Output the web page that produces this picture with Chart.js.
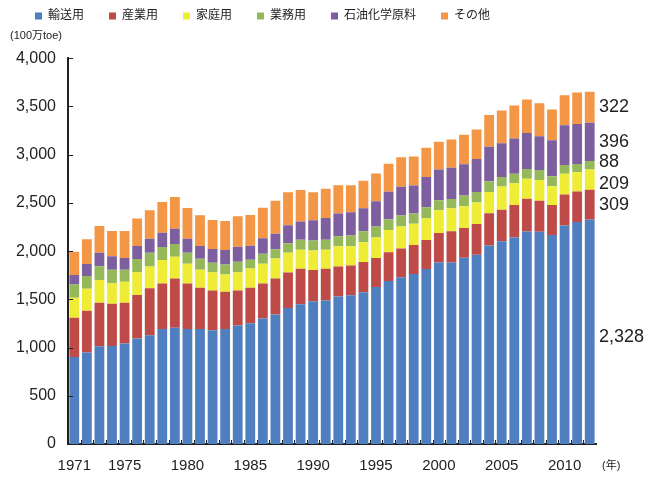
<!DOCTYPE html>
<html lang="ja">
<head>
<meta charset="utf-8">
<title>用途別石油消費量の推移</title>
<script src="https://cdn.jsdelivr.net/npm/chart.js@4.4.1/dist/chart.umd.min.js"></script>
<style>
    html, body { margin: 0; padding: 0; background: #fff; }
    #wrap { width: 650px; height: 477px; }
</style>
</head>
<body>
<div id="wrap"><canvas id="chart"></canvas></div>
<script>
// 年（1971〜2012）
const years = [];
for (let y = 1971; y <= 2012; y++) years.push(y);

// 用途別の消費量（100万toe）
const transport = [903, 949, 1014, 1017, 1042, 1094, 1127, 1193, 1204, 1193,
    1193, 1179, 1193, 1228, 1252, 1301, 1343, 1410, 1449, 1480,
    1487, 1529, 1542, 1573, 1627, 1690, 1728, 1762, 1815, 1883,
    1883, 1932, 1963, 2057, 2101, 2142, 2204, 2201, 2166, 2266,
    2301, 2328];
const industry = [405, 432, 450, 437, 422, 450, 489, 472, 513, 472,
    426, 413, 385, 364, 367, 364, 374, 368, 367, 325,
    329, 311, 309, 315, 302, 298, 298, 302, 301, 304,
    322, 308, 318, 335, 329, 335, 340, 322, 311, 322,
    316, 309];
const household = [208, 229, 236, 212, 218, 236, 225, 242, 224, 204,
    187, 190, 180, 190, 201, 204, 207, 204, 197, 202,
    197, 211, 200, 205, 212, 232, 229, 219, 225, 236,
    239, 225, 222, 222, 239, 226, 207, 214, 195, 215,
    200, 209];
const commercial = [139, 131, 142, 141, 125, 138, 142, 135, 132, 114,
    115, 97, 104, 107, 90, 103, 94, 100, 104, 103,
    104, 104, 111, 114, 114, 111, 114, 107, 114, 104,
    97, 111, 111, 111, 100, 100, 100, 104, 104, 90,
    86, 88];
const petrochem = [97, 125, 142, 139, 121, 135, 146, 149, 159, 146,
    131, 142, 149, 156, 145, 160, 162, 187, 191, 211,
    225, 236, 242, 236, 263, 284, 298, 291, 312, 319,
    322, 325, 342, 356, 350, 364, 374, 350, 374, 412,
    416, 396];
const others = [242, 257, 277, 263, 281, 284, 294, 318, 329, 318,
    319, 301, 301, 316, 319, 318, 343, 340, 325, 288,
    305, 291, 278, 287, 287, 290, 305, 301, 305, 287,
    295, 305, 306, 329, 340, 343, 347, 343, 319, 312,
    326, 322];

const seriesNames = ['輸送用', '産業用', '家庭用', '業務用', '石油化学原料', 'その他'];
const seriesData = [transport, industry, household, commercial, petrochem, others];
const seriesColors = ['#4f7fbf', '#bf4b48', '#eeec35', '#95b85a', '#7d5fa0', '#f39645'];

// 軸の目盛り
const yTicks = [0, 500, 1000, 1500, 2000, 2500, 3000, 3500, 4000];

const FONT = '"Liberation Sans", "Noto Sans CJK JP", sans-serif';
const AXIS_COLOR = '#222';

// 右端の数値ラベル（2012年）の重なり避け用の微調整
const labelNudge = [5, 0, 4, -3, 0, 0];

// 内向きの目盛り線、単位、右端の数値
const decorPlugin = {
    id: 'decor',
    afterDraw: function (chart) {
        const ctx = chart.ctx;
        const area = chart.chartArea;
        const ys = chart.scales.y;

        ctx.save();
        ctx.strokeStyle = AXIS_COLOR;
        ctx.lineWidth = 1;

        // y軸の目盛り
        yTicks.forEach(function (v) {
            const py = Math.round(ys.getPixelForValue(v)) + 0.5;
            ctx.beginPath();
            ctx.moveTo(area.left, py);
            ctx.lineTo(area.left + 5, py);
            ctx.stroke();
        });

        // x軸の目盛り（棒の間）
        const step = (area.right - area.left) / years.length;
        for (let i = 1; i < years.length; i++) {
            const px = Math.round(area.left + step * i) + 0.5;
            ctx.beginPath();
            ctx.moveTo(px, area.bottom);
            ctx.lineTo(px, area.bottom - 4);
            ctx.stroke();
        }

        // 単位
        ctx.fillStyle = '#222';
        ctx.font = '11px ' + FONT;
        ctx.textAlign = 'left';
        ctx.textBaseline = 'middle';
        ctx.fillText('(年)', area.right + 6, area.bottom + 22);

        // 2012年の内訳
        const last = years.length - 1;
        ctx.font = '18px ' + FONT;
        seriesData.forEach(function (arr, i) {
            const bar = chart.getDatasetMeta(i).data[last];
            const mid = (bar.y + bar.base) / 2 + labelNudge[i];
            ctx.fillText(arr[last].toLocaleString('en-US'), area.right + 3, mid);
        });
        ctx.restore();
    }
};

const datasets = seriesNames.map(function (name, i) {
    return {
        label: name,
        data: seriesData[i],
        backgroundColor: seriesColors[i],
        borderWidth: 0,
        categoryPercentage: 1.0,
        barPercentage: 0.78
    };
});

new Chart(document.getElementById('chart'), {
    type: 'bar',
    data: { labels: years, datasets: datasets },
    plugins: [decorPlugin],
    options: {
        responsive: true,
        maintainAspectRatio: false,
        animation: false,
        locale: 'en-US',
        layout: { padding: { top: -15, left: 10, right: 54, bottom: -11 } },
        plugins: {
            legend: {
                align: 'start',
                labels: {
                    boxWidth: 7,
                    boxHeight: 7,
                    padding: 25,
                    color: '#222',
                    font: { family: FONT, size: 12 }
                }
            },
            title: {
                display: true,
                text: '(100万toe)',
                align: 'start',
                weight: 500,
                color: '#222',
                font: { family: FONT, size: 11, weight: 'normal' },
                padding: { top: -3, bottom: 16 }
            },
            tooltip: { enabled: false }
        },
        scales: {
            x: {
                stacked: true,
                grid: { display: false, drawTicks: false },
                border: { display: true, color: AXIS_COLOR, width: 2 },
                ticks: {
                    autoSkip: false,
                    maxRotation: 0,
                    padding: 13,
                    color: '#222',
                    font: { family: FONT, size: 15 },
                    callback: function (value, index) {
                        const y = years[index];
                        return (y === 1971 || y % 5 === 0) ? String(y) : '';
                    }
                }
            },
            y: {
                stacked: true,
                min: 0,
                max: 4000,
                afterFit: function (scale) { scale.width = 58; },
                afterBuildTicks: function (scale) {
                    scale.ticks = yTicks.map(function (v) { return { value: v }; });
                },
                grid: { display: false, drawTicks: false },
                border: { display: true, color: AXIS_COLOR, width: 2 },
                ticks: {
                    padding: 12,
                    color: '#222',
                    font: { family: FONT, size: 16 },
                    callback: function (value) { return value.toLocaleString('en-US'); }
                }
            }
        }
    }
});
</script>
</body>
</html>
